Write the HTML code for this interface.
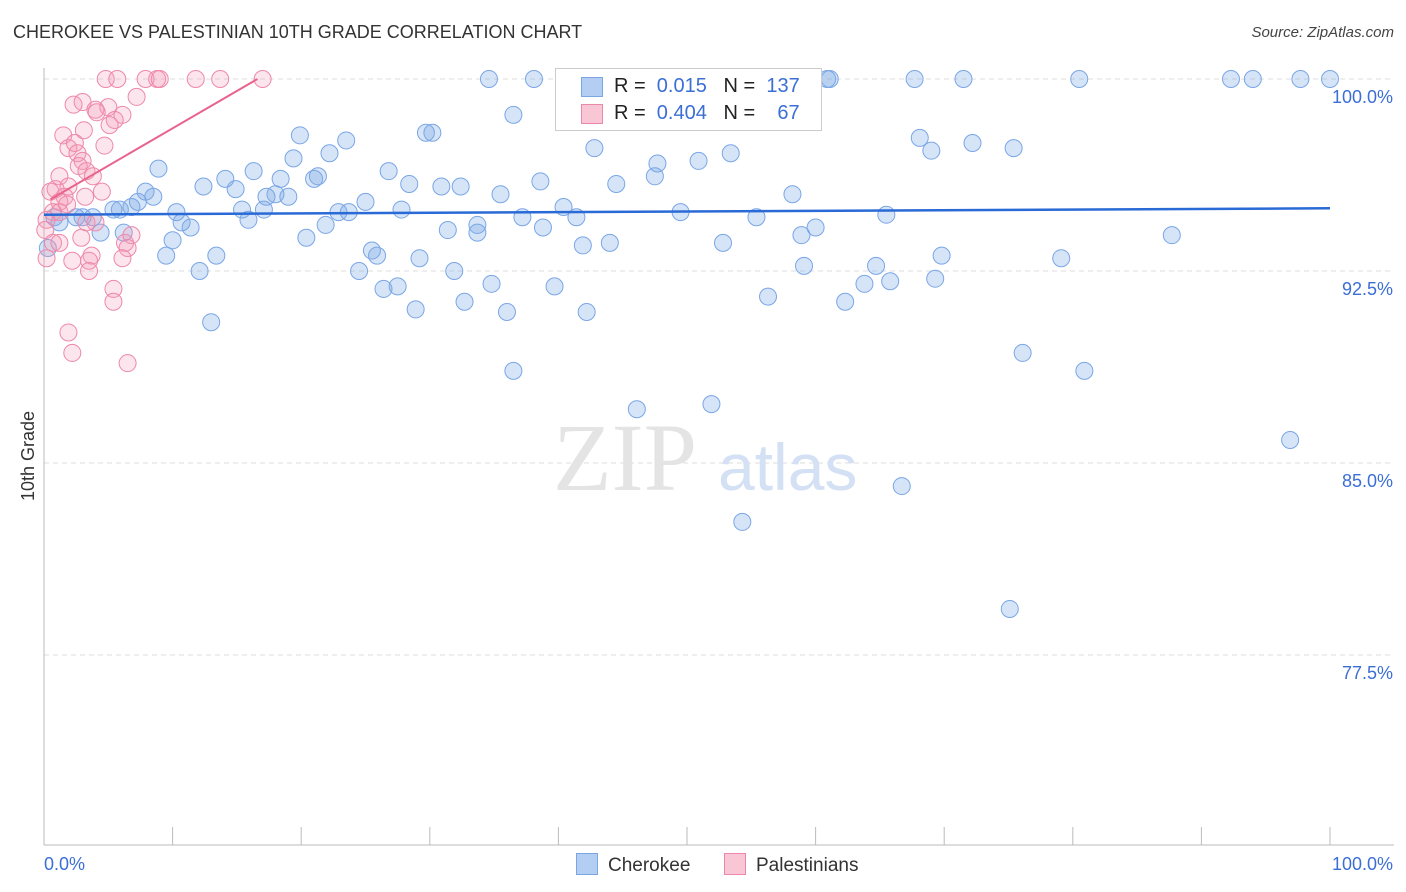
<!DOCTYPE html>
<html><head><meta charset="utf-8"><style>
body{margin:0;background:#fff;font-family:"Liberation Sans",sans-serif;}
#wrap{position:relative;width:1406px;height:892px;overflow:hidden;}
.t{position:absolute;white-space:nowrap;}
</style></head><body>
<div id="wrap">
<div class="t" style="left:13px;top:22px;font-size:18px;color:#333;">CHEROKEE VS PALESTINIAN 10TH GRADE CORRELATION CHART</div>
<div class="t" style="right:12px;top:24px;font-size:15px;color:#444;font-style:italic;">Source: ZipAtlas.com</div>
<svg id="svg" width="1406" height="892" style="position:absolute;left:0;top:0"></svg>
</div>
<script>
const yTicks=[100,92.5,85,77.5];
const yTickLabels=["100.0%","92.5%","85.0%","77.5%"];
const xTickLabels=["0.0%","100.0%"];
const cherX=[34.6,38.1,43.2,46.8,52.5,60.9,61.1,67.7,71.5,80.5,92.3,94.0,97.7,100,36.5,51.6,29.7,30.2,19.9,23.5,42.8,53.4,68.1,69.0,72.2,75.4,47.7,50.9,47.5,44.5,19.4,22.2,26.8,8.9,16.3,14.1,14.9,12.4,18.4,21.0,21.3,28.4,30.9,32.4,35.5,38.6,7.9,8.5,7.3,6.8,5.4,5.9,10.3,15.4,17.1,17.3,18.0,19.0,22.9,23.7,25.0,27.8,40.4,37.2,41.4,49.5,55.4,58.2,65.5,1.2,2.5,3.0,3.8,4.4,6.2,10.7,11.4,10.0,9.5,13.4,20.4,21.9,15.9,31.4,33.7,33.7,38.8,41.9,44.0,52.8,58.9,60.0,87.7,69.8,25.5,25.9,29.2,24.5,31.9,59.1,64.7,79.1,12.1,26.4,27.5,34.8,39.7,63.8,65.8,69.3,32.7,28.9,36.0,42.2,56.3,62.3,13.0,76.1,36.5,80.9,46.1,51.9,96.9,66.7,54.3,75.1,0.8,0.3];
const cherY=[100,100,99.8,100,100,100,100,100,100,100,100,100,100,100,98.6,98.9,97.9,97.9,97.8,97.6,97.3,97.1,97.7,97.2,97.5,97.3,96.7,96.8,96.2,95.9,96.9,97.1,96.4,96.5,96.4,96.1,95.7,95.8,96.1,96.1,96.2,95.9,95.8,95.8,95.5,96.0,95.6,95.4,95.2,95.0,94.9,94.9,94.8,94.9,94.9,95.4,95.5,95.4,94.8,94.8,95.2,94.9,95.0,94.6,94.6,94.8,94.6,95.5,94.7,94.4,94.6,94.6,94.6,94.0,94.0,94.4,94.2,93.7,93.1,93.1,93.8,94.3,94.5,94.1,94.0,94.3,94.2,93.5,93.6,93.6,93.9,94.2,93.9,93.1,93.3,93.1,93.0,92.5,92.5,92.7,92.7,93.0,92.5,91.8,91.9,92.0,91.9,92.0,92.1,92.2,91.3,91.0,90.9,90.9,91.5,91.3,90.5,89.3,88.6,88.6,87.1,87.3,85.9,84.1,82.7,79.3,94.6,93.4];
const palX=[4.8,5.7,7.9,8.8,9.0,11.8,13.7,17.0,7.2,2.3,3.0,5.0,4.0,4.1,6.1,5.5,5.1,1.5,3.1,4.7,1.9,2.4,2.6,3.0,2.7,3.3,3.8,1.2,1.9,0.9,0.5,4.5,1.6,1.2,3.2,0.7,0.2,1.2,1.8,3.3,4.0,2.9,0.7,1.2,6.3,6.8,6.5,6.1,3.7,3.5,2.2,0.2,3.5,5.4,5.4,1.9,2.2,6.5,0.1];
const palY=[100,100,100,100,100,100,100,100,99.3,99.0,99.1,98.9,98.8,98.7,98.6,98.4,98.2,97.8,98.0,97.4,97.3,97.5,97.1,96.8,96.6,96.4,96.2,96.2,95.8,95.7,95.6,95.6,95.4,95.2,95.4,94.8,94.5,94.8,95.1,94.4,94.4,93.8,93.6,93.6,93.6,93.9,93.4,93.0,93.1,92.9,92.9,93.0,92.5,91.8,91.3,90.1,89.3,88.9,94.1];
const cherTrendX=[0,100], cherTrendY=[94.7,94.95];
const palTrendX=[0.5,16.6], palTrendY=[95.3,100];
const X0=44,X1=1330,Ytop=79,Ybot=845,yMin=70.08,yMax=100;
const sx=v=>X0+(X1-X0)*v/100;
const sy=v=>Ybot-(Ybot-Ytop)*(v-yMin)/(yMax-yMin);
const svg=document.getElementById('svg');const NS='http://www.w3.org/2000/svg';
function mk(tag,at,name){const e=document.createElementNS(NS,tag);for(const k in at)e.setAttribute(k,at[k]);


svg.appendChild(e);return e;}
yTicks.forEach((v,i)=>{mk('line',{x1:44,x2:1394,y1:sy(v),y2:sy(v),stroke:'#ddd','stroke-dasharray':'5,4'},'y-gridline');
const t=mk('text',{x:1393,y:sy(v)+24,'text-anchor':'end','font-size':18,fill:'#3b6fd6','font-family':'Liberation Sans'},'y-tick-label');t.textContent=yTickLabels[i];});
mk('line',{x1:44,x2:44,y1:68,y2:845,stroke:'#bbb'},'y-axis');
mk('line',{x1:44,x2:1394,y1:845,y2:845,stroke:'#bbb'},'x-axis');
for(let i=0;i<=10;i++){mk('line',{x1:sx(i*10),x2:sx(i*10),y1:827,y2:845,stroke:'#bbb'},'x-tick');}
let t=mk('text',{x:44,y:870,'font-size':18,fill:'#3b6fd6','font-family':'Liberation Sans'},'x-tick-label');t.textContent=xTickLabels[0];
t=mk('text',{x:1393,y:870,'text-anchor':'end','font-size':18,fill:'#3b6fd6','font-family':'Liberation Sans'},'x-tick-label');t.textContent=xTickLabels[1];
t=mk('text',{x:34,y:456,'text-anchor':'middle','font-size':18,fill:'#333','font-family':'Liberation Sans',transform:'rotate(-90 34 456)'},'y-axis-title');t.textContent='10th Grade';
t=mk('text',{x:553,y:490,'font-size':96,fill:'#e4e4e4','font-family':'Liberation Serif'},'watermark-zip');t.textContent='ZIP';
t=mk('text',{x:718,y:490,'font-size':66,fill:'#d4e0f4','font-family':'Liberation Sans'},'watermark-atlas');t.textContent='atlas';
cherX.forEach((x,i)=>mk('circle',{cx:sx(x),cy:sy(cherY[i]),r:8.5,fill:'rgba(120,165,230,0.3)',stroke:'#7aa6e6','stroke-width':1},'cherokee-point'));
palX.forEach((x,i)=>mk('circle',{cx:sx(x),cy:sy(palY[i]),r:8.5,fill:'rgba(245,150,180,0.25)',stroke:'#ee88aa','stroke-width':1},'palestinian-point'));
mk('line',{x1:sx(cherTrendX[0]),y1:sy(cherTrendY[0]),x2:sx(cherTrendX[1]),y2:sy(cherTrendY[1]),stroke:'#2a6ad6','stroke-width':2.5},'cherokee-trendline');
mk('line',{x1:sx(palTrendX[0]),y1:sy(palTrendY[0]),x2:sx(palTrendX[1]),y2:sy(palTrendY[1]),stroke:'#e8648e','stroke-width':2},'palestinian-trendline');
</script>
<div class="t" style="left:555px;top:68px;width:265px;height:61px;border:1px solid #ccc;background:#fff;font-size:20px;color:#222;">
<div style="position:absolute;left:25px;top:8px;width:20px;height:18px;background:#b4cdf2;border:1px solid #7aa6e6"></div>
<div style="position:absolute;left:58px;top:6px">R = <span style="color:#3b6fd6">&nbsp;0.015</span>&nbsp;&nbsp;&nbsp;N = <span style="color:#3b6fd6">&nbsp;137</span></div>
<div style="position:absolute;left:25px;top:35px;width:20px;height:18px;background:#f9c6d6;border:1px solid #ee88aa"></div>
<div style="position:absolute;left:58px;top:33px">R = <span style="color:#3b6fd6">&nbsp;0.404</span>&nbsp;&nbsp;&nbsp;N = <span style="color:#3b6fd6">&nbsp;&nbsp;&nbsp;67</span></div>
</div>
<div class="t" style="left:576px;top:853px;font-size:19px;color:#333;"><span style="display:inline-block;width:20px;height:20px;background:#b4cdf2;border:1px solid #7aa6e6;vertical-align:-4px;margin-right:10px"></span>Cherokee</div>
<div class="t" style="left:724px;top:853px;font-size:19px;color:#333;"><span style="display:inline-block;width:20px;height:20px;background:#f9c6d6;border:1px solid #ee88aa;vertical-align:-4px;margin-right:10px"></span>Palestinians</div>
</body></html>
